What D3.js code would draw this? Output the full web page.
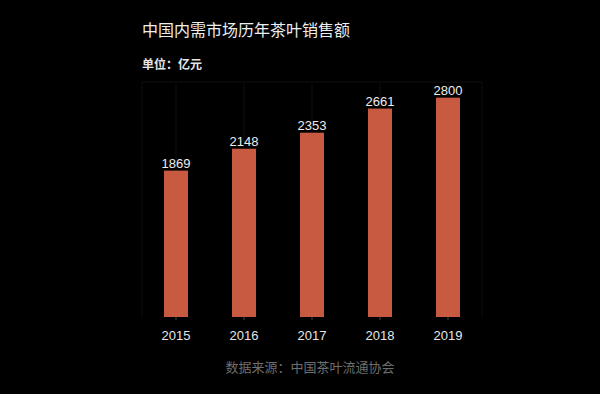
<!DOCTYPE html>
<html>
  <head>
    <meta charset="utf-8" />
    <title>中国内需市场历年茶叶销售额</title>
    <style>
      html,
      body {
        margin: 0;
        background: #000;
      }
      svg {
        display: block;
      }
      text {
        font-family: "Liberation Sans", Arial, "Noto Sans CJK SC", sans-serif;
      }
      .cjk {
        font-family: "Noto Sans CJK SC", sans-serif;
      }
    </style>
  </head>
  <body>
    <svg id="chart"></svg>
    <script src="https://cdn.jsdelivr.net/npm/d3@7"></script>
    <script>
      const years = ["2015", "2016", "2017", "2018", "2019"];
      const sales = [1869, 2148, 2353, 2661, 2800];
      const yDomain = [0, 3000];

      const width = 600;
      const height = 394;

      const svg = d3
        .select("#chart")
        .attr("width", width)
        .attr("height", height);

      svg
        .append("rect")
        .attr("width", width)
        .attr("height", height)
        .attr("fill", "#000");

      const x = d3
        .scaleBand()
        .domain(years)
        .range([142, 482])
        .paddingInner(0.647)
        .paddingOuter(0.3235);

      const y = d3.scaleLinear().domain(yDomain).range([317, 82]);

      // faint frame / grid, barely visible on black
      const grid = svg.append("g").attr("stroke", "#0e0e0e").attr("fill", "none");
      grid
        .append("line")
        .attr("x1", 142)
        .attr("x2", 482)
        .attr("y1", y(3000))
        .attr("y2", y(3000));
      grid
        .selectAll("line.v")
        .data(years)
        .join("line")
        .attr("class", "v")
        .attr("x1", (d) => x(d) + x.bandwidth() / 2)
        .attr("x2", (d) => x(d) + x.bandwidth() / 2)
        .attr("y1", y(3000))
        .attr("y2", y(0));
      grid
        .selectAll("line.edge")
        .data([142, 482])
        .join("line")
        .attr("class", "edge")
        .attr("x1", (d) => d)
        .attr("x2", (d) => d)
        .attr("y1", y(3000))
        .attr("y2", y(0));

      // bars
      svg
        .append("g")
        .selectAll("rect")
        .data(sales)
        .join("rect")
        .attr("x", (d, i) => x(years[i]))
        .attr("y", (d) => y(d))
        .attr("width", x.bandwidth())
        .attr("height", (d) => y(0) - y(d))
        .attr("fill", "#c75a40");

      // value labels
      svg
        .append("g")
        .selectAll("text")
        .data(sales)
        .join("text")
        .attr("x", (d, i) => x(years[i]) + x.bandwidth() / 2)
        .attr("y", (d) => y(d) - 3)
        .attr("text-anchor", "middle")
        .attr("font-size", 13)
        .attr("fill", "#eee")
        .text((d) => d);

      // x axis
      const xAxis = svg
        .append("g")
        .attr("transform", `translate(0,${y(0)})`)
        .call(d3.axisBottom(x).tickSize(3).tickPadding(11));
      xAxis.select(".domain").remove();
      xAxis.selectAll(".tick line").attr("stroke", "#444");
      xAxis
        .selectAll(".tick text")
        .attr("fill", "#e6e6e6")
        .attr("font-size", 13)
        .attr("font-family", "'Liberation Sans', Arial, sans-serif");

      // titles
      svg
        .append("text")
        .attr("class", "cjk")
        .attr("x", 142)
        .attr("y", 36)
        .attr("font-size", 16)
        .attr("fill", "#eee")
        .text("中国内需市场历年茶叶销售额");

      svg
        .append("text")
        .attr("class", "cjk")
        .attr("x", 142)
        .attr("y", 69)
        .attr("font-size", 12)
        .attr("font-weight", "bold")
        .attr("fill", "#e6e6e6")
        .text("单位：亿元");

      svg
        .append("text")
        .attr("class", "cjk")
        .attr("x", 310)
        .attr("y", 372)
        .attr("text-anchor", "middle")
        .attr("font-size", 13)
        .attr("fill", "#6e6e6e")
        .text("数据来源：中国茶叶流通协会");
    </script>
  </body>
</html>
